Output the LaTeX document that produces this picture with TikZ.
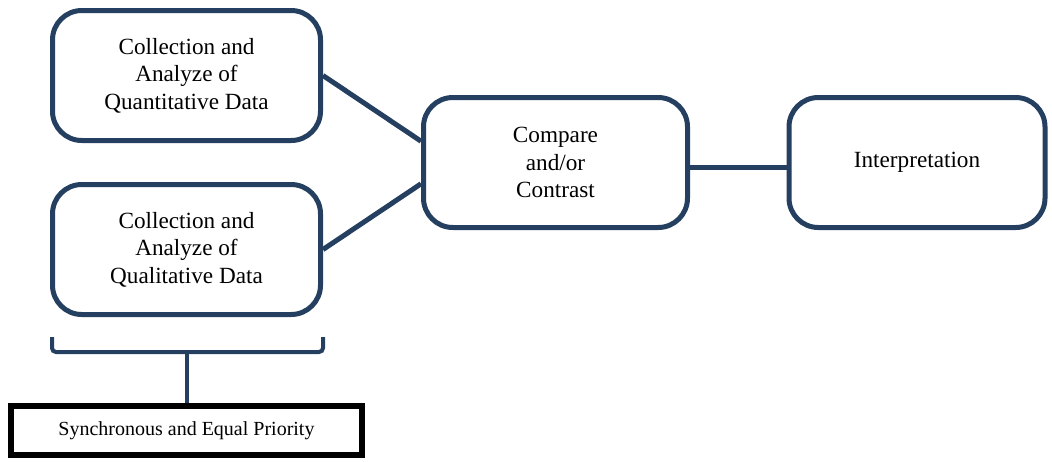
\documentclass[tikz,border=0pt]{standalone}
\usepackage{fontspec}
\setmainfont{Liberation Serif}
\definecolor{boxblue}{HTML}{243F60}
\begin{document}
\begin{tikzpicture}[x=0.75pt,y=-0.75pt,
  stagebox/.style={draw=boxblue,line width=3.75pt,rounded corners=22pt,
    fill=white,inner sep=0pt,align=center,minimum height=97.5pt,
    font=\fontsize{17.4}{20.5}\selectfont},
  link/.style={draw=boxblue,line width=3.75pt}]
\useasboundingbox (0,0) rectangle (1052,461);

\node[stagebox,minimum width=201pt] (quant) at (186.5,75.5)
  {Collection and\\Analyze of\\Quantitative Data};
\node[stagebox,minimum width=201pt] (qual) at (186.5,249.5)
  {Collection and\\Analyze of\\Qualitative Data};
\node[stagebox,minimum width=198pt] (comp) at (555.5,162.5)
  {Compare\\and/or\\Contrast};
\node[stagebox,minimum width=192pt] (interp) at (917,162.5)
  {Interpretation};

\draw[link] (quant.east) -- (comp.171);
\draw[link] (qual.east) -- (comp.189);
\draw[link] ([yshift=-4pt]comp.east) -- ([yshift=-4pt]interp.west);

% bracket under the two data boxes
\node[draw=black,line width=4.5pt,inner sep=0pt,minimum width=263pt,
  minimum height=36.75pt,font=\fontsize{15}{17}\selectfont] (prio) at (186.5,430.5)
  {Synchronous and Equal Priority};
\coordinate (brl) at (52,337);
\coordinate (brr) at (323,337);
\coordinate (brm) at (187,352);
\draw[link,line width=3pt,rounded corners=3pt] (brl) -- (brl|-brm) -- (brr|-brm) -- (brr);
\draw[link,line width=3pt] (brm) -- (prio.north-|brm);
\end{tikzpicture}
\end{document}
